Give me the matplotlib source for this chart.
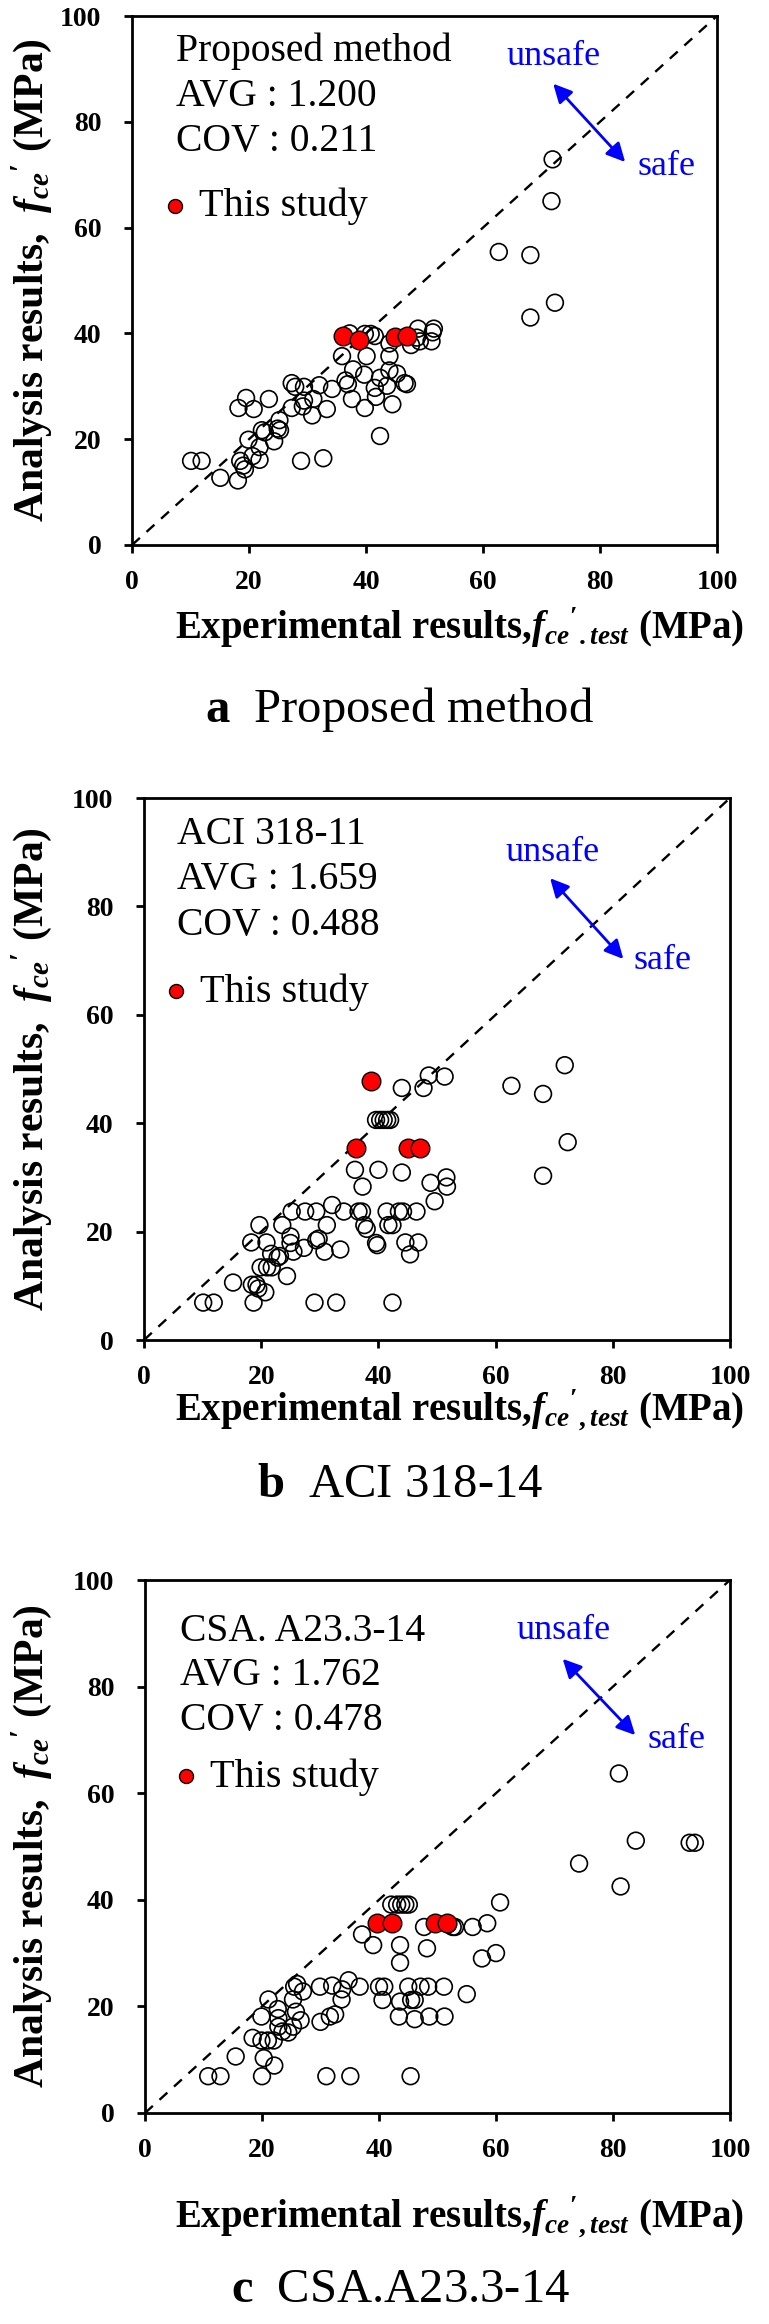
import numpy as np
import matplotlib
matplotlib.use("Agg")
import matplotlib.pyplot as plt

plt.rcParams['font.family'] = ['Liberation Serif', 'DejaVu Serif']
plt.rcParams['mathtext.fontset'] = 'custom'
plt.rcParams['mathtext.rm'] = 'Liberation Serif:bold'
plt.rcParams['mathtext.it'] = 'Liberation Serif:italic:bold'
plt.rcParams['mathtext.bf'] = 'Liberation Serif:bold'

# ---- panel a : proposed method ----
a_open_x = [71.9, 71.7, 62.7, 68.1, 72.3, 68.1,
            37.2, 39.8, 40.8, 41.5, 48.9, 51.6, 51.4, 51.2, 49.2, 47.7, 48.7, 44.0,
            35.9, 40.1, 44.0, 37.8, 39.7, 44.0, 45.3, 42.4,
            46.6, 47.0, 36.9, 36.5, 41.5, 43.6,
            27.3, 27.9, 29.4, 32.0, 34.2,
            37.6, 41.7, 44.5, 39.8,
            29.4, 31.0, 27.3, 29.2, 30.8, 33.3,
            19.5, 23.4, 18.2, 20.8,
            25.2, 24.9, 25.3, 22.7, 22.2, 24.3, 21.8, 19.9,
            42.4, 10.1, 11.9,
            18.5, 20.6, 21.8, 19.3, 19.0,
            15.1, 18.1, 28.9, 32.7]
a_open_y = [72.9, 65.0, 55.4, 54.8, 45.8, 43.0,
            40.0, 39.9, 39.9, 39.5, 40.9, 40.9, 40.2, 38.5, 38.5, 37.8, 39.2, 38.1,
            35.7, 35.7, 35.7, 33.2, 32.2, 33.0, 32.4, 31.6,
            30.6, 30.4, 30.4, 31.1, 29.7, 30.1,
            30.6, 29.9, 29.9, 30.2, 29.5,
            27.6, 28.0, 26.6, 25.9,
            27.3, 27.6, 25.9, 26.2, 24.5, 25.7,
            27.8, 27.6, 25.9, 25.7,
            23.6, 22.0, 21.7, 21.3, 21.7, 19.6, 18.5, 19.9,
            20.6, 15.9, 15.9,
            15.9, 16.8, 16.1, 14.3, 15.0,
            12.7, 12.2, 15.9, 16.4]
a_red_x = [36.1, 38.8, 45.0, 47.0]
a_red_y = [39.5, 38.8, 39.3, 39.5]

# ---- panel b : ACI 318 ----
b_open_x = [71.8, 62.7, 68.1, 72.3, 68.1,
            48.6, 51.3, 47.7, 44.0,
            39.6, 40.3, 40.9, 41.5, 42.0,
            36.0, 40.0, 44.0,
            37.3, 48.9, 51.6, 51.7, 49.6,
            25.2, 27.5, 29.4, 32.1, 34.1, 36.6, 37.2, 41.4, 43.5, 44.2, 46.5,
            23.6, 19.7, 31.2, 37.6, 38.0, 41.7, 42.4,
            18.3, 20.9, 25.0, 25.0, 25.5, 27.3, 29.4, 29.8, 30.8, 33.5, 39.6, 39.8, 44.6, 46.8, 45.4,
            21.7, 22.8, 23.2, 19.9, 21.0, 21.8, 24.4,
            15.2, 18.4, 19.5, 20.7, 19.2,
            10.1, 11.9, 18.7, 29.1, 32.8, 42.4]
b_open_y = [50.7, 46.9, 45.4, 36.5, 30.3,
            48.8, 48.6, 46.5, 46.5,
            40.6, 40.6, 40.6, 40.6, 40.6,
            31.4, 31.4, 30.9,
            28.3, 29.0, 30.0, 28.3, 25.6,
            23.7, 23.7, 23.7, 24.9, 23.7, 23.7, 23.7, 23.7, 23.7, 23.7, 23.7,
            21.2, 21.2, 21.2, 21.2, 20.5, 21.2, 21.2,
            18.0, 18.0, 19.1, 17.9, 16.3, 17.0, 18.4, 18.7, 16.3, 16.7, 17.9, 17.5, 18.0, 18.0, 15.8,
            15.9, 15.2, 15.5, 13.4, 13.4, 13.4, 11.8,
            10.6, 10.2, 9.5, 8.8, 10.2,
            6.9, 6.9, 6.9, 6.9, 6.9, 6.9]
b_red_x = [38.8, 36.2, 45.1, 47.1]
b_red_y = [47.7, 35.5, 35.5, 35.5]

# ---- panel c : CSA A23.3 ----
c_open_x = [81.0, 83.9, 93.1, 94.0, 74.2, 81.3, 60.7,
            42.1, 43.1, 43.8, 44.5, 45.1,
            37.1, 39.0, 43.6, 43.6, 48.2,
            47.7, 52.6, 56.0, 58.5, 51.8, 53.0,
            57.6, 60.0,
            29.9, 32.0, 33.7, 34.8, 36.7, 40.0, 40.9, 45.0, 47.1, 48.4, 51.1, 25.5, 26.0, 27.0,
            55.0, 33.6, 40.6, 43.6, 45.5, 46.1,
            21.1, 22.7, 25.3, 25.8, 22.8, 19.9, 26.6,
            30.0, 31.6, 32.5, 43.4, 46.1, 48.6, 51.2,
            22.8, 23.5, 24.5, 25.3,
            18.4, 19.9, 21.0, 22.0,
            15.5, 20.3, 22.1,
            10.8, 12.9, 20.0, 31.0, 35.1, 45.4]
c_open_y = [63.7, 51.1, 50.7, 50.7, 46.8, 42.5, 39.5,
            39.1, 39.1, 39.1, 39.1, 39.1,
            33.5, 31.5, 31.5, 28.2, 30.9,
            34.9, 34.9, 34.9, 35.6, 35.4, 34.9,
            29.0, 30.0,
            23.7, 23.9, 23.2, 24.9, 23.7, 23.7, 23.7, 23.7, 23.7, 23.7, 23.7, 23.7, 24.2, 22.8,
            22.3, 21.3, 21.2, 20.9, 21.2, 21.2,
            21.3, 19.5, 21.3, 19.0, 17.8, 18.1, 17.4,
            17.1, 18.1, 18.5, 18.1, 17.6, 18.1, 18.1,
            16.2, 15.3, 15.1, 16.2,
            14.1, 13.6, 13.6, 13.6,
            10.6, 10.3, 8.9,
            6.9, 6.9, 6.9, 6.9, 6.9, 6.9]
c_red_x = [39.6, 42.3, 49.5, 51.6]
c_red_y = [35.6, 35.6, 35.6, 35.6]

names = ["Proposed method", "ACI 318-11", "CSA. A23.3-14"]
avgs = ["1.200", "1.659", "1.762"]
covs = ["0.211", "0.488", "0.478"]
captions = ["Proposed method", "ACI 318-14", "CSA.A23.3-14"]
letters = ["a", "b", "c"]

W, H = 769, 2324
fig = plt.figure(figsize=(W / 100, H / 100), dpi=100)

# pixel boxes: left, right, top, bottom
boxes = [(132, 717, 16, 545), (144, 730, 798, 1340), (145, 730, 1580, 2113)]
xlab_y = [628, 1410, 2217]
cap_y = [710, 1485, 2290]
xlabels = [r"Experimental results,$f_{ce}{}^{\prime}{}_{.test}$ (MPa)",
           r"Experimental results,$f_{ce}{}^{\prime}{}_{,test}$ (MPa)",
           r"Experimental results,$f_{ce}{}^{\prime}{}_{,test}$ (MPa)"]
# text anchor positions (data units)
txt_pos = [(7.6, 93.4, 8.6), (5.7, 93.3, 8.4), (5.9, 90.4, 8.4)]
leg_pos = [(0.056, 0.64), (0.037, 0.642), (0.053, 0.63)]
unsafe_pos = [(72.0, 92.3), (69.7, 89.9), (71.5, 90.6)]
safe_pos = [(91.3, 71.5), (88.4, 70.0), (90.8, 70.0)]
arrows = [((72.0, 87.2), (84.3, 72.4)), ((69.3, 85.2), (81.8, 70.3)), ((71.4, 85.2), (83.8, 70.9))]

data = [(a_open_x, a_open_y, a_red_x, a_red_y),
        (b_open_x, b_open_y, b_red_x, b_red_y),
        (c_open_x, c_open_y, c_red_x, c_red_y)]

for i in range(3):
    l, r, t, b = boxes[i]
    ax = fig.add_axes([l / W, 1 - b / H, (r - l) / W, (b - t) / H])
    ox, oy, rx, ry = data[i]
    ax.plot([0, 100], [0, 100], color='black', lw=1.7, dashes=(4.5, 3.8), zorder=1)
    ax.scatter(ox, oy, s=145, facecolors='none', edgecolors='black', linewidths=1.2, zorder=2)
    red = ax.scatter(rx, ry, s=180, facecolors='red', edgecolors='black', linewidths=1.0, zorder=3)

    ax.set_xlim(0, 100)
    ax.set_ylim(0, 100)
    ax.set_xticks(np.arange(0, 101, 20))
    ax.set_yticks(np.arange(0, 101, 20))
    for sp in ax.spines.values():
        sp.set_linewidth(2.0)
    ax.tick_params(direction='out', length=6, width=2.0, labelsize=20)
    ax.tick_params(axis='x', pad=12)
    ax.tick_params(axis='y', pad=16)
    for lab in ax.get_xticklabels() + ax.get_yticklabels():
        lab.set_fontweight('bold')

    tx, ty, dy = txt_pos[i]
    ax.text(tx, ty, names[i], fontsize=28.5, va='center', ha='left')
    ax.text(tx, ty - dy, "AVG : " + avgs[i], fontsize=28.5, va='center', ha='left')
    ax.text(tx, ty - 2 * dy, "COV : " + covs[i], fontsize=28.5, va='center', ha='left')
    ax.legend([red], ["This study"], loc='center left', bbox_to_anchor=leg_pos[i],
              frameon=False, borderpad=0, borderaxespad=0, handlelength=0.5,
              handletextpad=0.35, markerscale=0.75, prop={'size': 29})

    ax.text(*unsafe_pos[i], "unsafe", color='blue', fontsize=26, ha='center', va='center')
    ax.text(*safe_pos[i], "safe", color='blue', fontsize=26, ha='center', va='center')
    p0, p1 = arrows[i]
    ax.annotate('', xy=p1, xytext=p0,
                arrowprops=dict(arrowstyle='<|-|>', color='blue', lw=2, mutation_scale=28,
                                shrinkA=0, shrinkB=0))

    fig.text(32 / W, 1 - (t + b) / 2 / H, r"Analysis results,  $f_{ce}{}^{\prime}$ (MPa)",
             rotation=90, fontsize=30, fontweight='bold', ha='center', va='center')
    fig.text(460 / W, 1 - xlab_y[i] / H, xlabels[i], fontsize=28, fontweight='bold',
             ha='center', va='center')
    fig.text(400 / W, 1 - cap_y[i] / H, r"$\mathbf{" + letters[i] + r"}$  " + captions[i],
             fontsize=35, ha='center', va='center')

fig.savefig("out.png", dpi=100)
